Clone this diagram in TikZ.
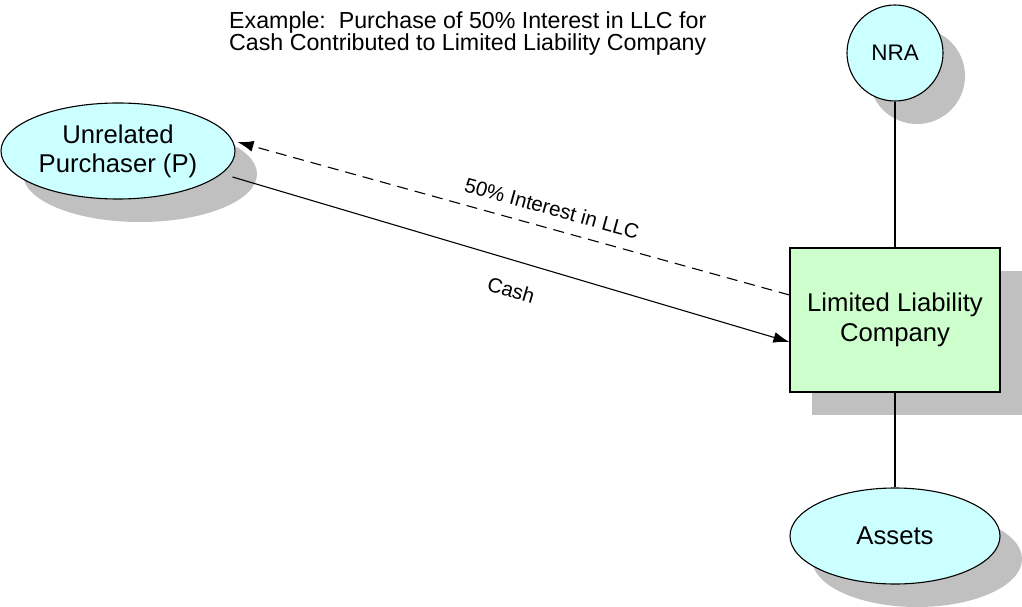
\documentclass[tikz,border=0pt]{standalone}
\usepackage{fontspec}
\setmainfont{Liberation Sans}
\usetikzlibrary{arrows.meta,shapes.geometric,shadows}
\tikzset{
  castshadow/.style={general shadow={fill={rgb, 255:red, 192; green, 192; blue, 192 }, draw=none, shadow xshift=22pt, shadow yshift=-23pt}},
  party/.style={ellipse, draw, line width=1.1pt, fill={rgb, 255:red, 204; green, 255; blue, 255 }, castshadow, inner sep=0pt, align=center, font=\fontsize{25.7}{29}\selectfont},
  entity/.style={rectangle, draw, line width=1.1pt, fill={rgb, 255:red, 204; green, 255; blue, 204 }, castshadow, inner sep=0pt, align=center, font=\fontsize{25.7}{30}\selectfont},
  link/.style={line width=1.1pt},
  flow/.style={line width=1.1pt, -{Latex[length=16pt,width=11pt]}},
  flowlabel/.style={font=\fontsize{20.5}{23}\selectfont, inner sep=2pt}
}
\begin{document}
\begin{tikzpicture}[x=1pt,y=1pt]
\useasboundingbox (0,0) rectangle (1022,606);

%Title
\node [anchor=north west, inner sep=0pt, align=left, font=\fontsize{23.2}{21}\selectfont] (title) at (229,595) {Example:\ \ Purchase of 50\% Interest in LLC for\\Cash Contributed to Limited Liability Company};

%Shape: Ellipse [purchaser]
\node [party, minimum width=234, minimum height=96] (purch) at (118,455) {Unrelated\\Purchaser (P)};
%Shape: Circle [nra]
\node [party, circle, minimum size=96, font=\fontsize{22.5}{26}\selectfont] (nra) at (895,553) {NRA};
%Shape: Rectangle [llc]
\node [entity, minimum width=210, minimum height=144] (llc) at (895,286) {Limited Liability\\Company};
%Shape: Ellipse [assets]
\node [party, minimum width=210, minimum height=96] (assets) at (895,70) {Assets};

%Straight Lines
\draw [link] (nra.south) -- (llc.north);
\draw [link] (llc.south) -- (assets.north);

%Arrows
\draw [flow, dash pattern=on 11pt off 7pt] ([yshift=25pt]llc.west) -- node[flowlabel, sloped, above=10pt, pos=0.44] {50\% Interest in LLC} ([xshift=2pt,yshift=9pt]purch.east);
\draw [flow] ([xshift=-3pt,yshift=-26pt]purch.east) -- node[flowlabel, sloped, below=19pt, pos=0.515] {Cash} ([yshift=-22pt]llc.west);
\end{tikzpicture}
\end{document}
